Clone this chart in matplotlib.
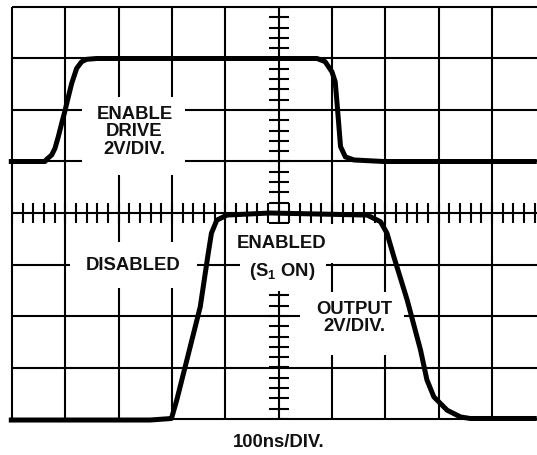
#!/usr/bin/env python3
"""
Scope trace: enable drive vs output, 100ns/div
"""

import numpy as np
import matplotlib
matplotlib.use('Agg')
import matplotlib.pyplot as plt
from matplotlib.patches import Rectangle

plt.rcParams['font.family'] = ['Liberation Sans', 'DejaVu Sans']
plt.rcParams['mathtext.fontset'] = 'custom'
plt.rcParams['mathtext.rm'] = 'Liberation Sans:bold'
plt.rcParams['mathtext.it'] = 'Liberation Sans:bold'
plt.rcParams['mathtext.bf'] = 'Liberation Sans:bold'

# trace readings, in divisions (x: time div, y: vertical div from centre)
drive_t = [-0.06, 0.62, 0.650, 0.744, 0.806, 0.868, 0.932, 0.994, 1.057, 1.120,
           1.213, 1.307, 1.400, 1.588, 4.78, 5.72, 5.87, 6.00, 6.06, 6.09,
           6.13, 6.16, 6.25, 6.41, 6.97, 9.84]
drive_v = [1.0, 1.0, 1.043, 1.126, 1.256, 1.482, 1.742, 1.987, 2.258, 2.519,
           2.810, 2.938, 2.984, 3.0, 3.0, 3.0, 2.94, 2.74, 2.55, 2.19,
           1.68, 1.29, 1.09, 1.03, 1.0, 1.0]

output_t = [-0.06, 2.59, 2.99, 3.09, 3.28, 3.53, 3.68, 3.74, 3.84, 4.03,
            4.84, 6.66, 6.91, 7.03, 7.16, 7.41, 7.66, 7.78, 7.91, 8.16,
            8.41, 8.59, 9.84]
output_v = [-4.02, -4.02, -3.99, -3.63, -2.85, -1.82, -0.78, -0.39, -0.14, -0.04,
            0.0, -0.04, -0.17, -0.39, -0.85, -1.69, -2.66, -3.24, -3.57, -3.83,
            -3.96, -3.99, -3.99]

X_MAX = 9.844
GRID_LW = 1.5
INK = '#111111'

fig = plt.figure(figsize=(5.37, 4.55), dpi=100)
ax = fig.add_axes([12 / 537, 1 - 419 / 455, 1 - 12 / 537, 412 / 455])
ax.set_xlim(0, X_MAX)
ax.set_ylim(-4, 4)
ax.axis('off')

# graticule
ax.vlines(np.arange(0, 10), -4, 4, color='black', lw=GRID_LW, zorder=1, clip_on=False)
ax.hlines(np.arange(-4, 5), 0, X_MAX, color='black', lw=GRID_LW, zorder=1, clip_on=False)

# minor ticks on the centre axes
xt = np.arange(0, X_MAX, 0.2)
ax.vlines(xt, -0.19, 0.19, color='black', lw=GRID_LW, zorder=1)
yt = np.arange(-4, 4.01, 0.2)
ax.hlines(yt, 5 - 0.1875, 5 + 0.1875, color='black', lw=GRID_LW, zorder=1)

# white blanks behind labels
for x0, x1, y0, y1 in [(1.307, 3.244, 0.738, 2.258),
                       (1.088, 3.463, -1.450, -0.557),
                       (4.275, 6.113, -0.971, -0.214),
                       (4.275, 5.888, -1.524, -0.971),
                       (5.406, 7.344, -2.757, -1.528)]:
    ax.add_patch(Rectangle((x0, y0), x1 - x0, y1 - y0, facecolor='white',
                           edgecolor='none', zorder=2))

# traces
for t, v in [(drive_t, drive_v), (output_t, output_v)]:
    ax.plot(t, v, color='black', lw=3.6, solid_joinstyle='round',
            solid_capstyle='butt', zorder=3, clip_on=False)

fs = 13.3
txt = dict(ha='center', va='center', fontsize=fs, fontweight='bold', color=INK, zorder=4)
ax.text(2.297, 1.903, 'ENABLE', **txt)
ax.text(2.297, 1.573, 'DRIVE', **txt)
ax.text(2.297, 1.240, '2V/DIV.', **txt)
ax.text(2.275, -1.023, 'DISABLED', **txt)
ax.text(5.057, -0.598, 'ENABLED', **txt)
ax.text(5.072, -1.140, r'(S$_{1}$ ON)', **txt)
ax.text(6.422, -1.874, 'OUTPUT', **txt)
ax.text(6.422, -2.204, '2V/DIV.', **txt)
ax.text(4.997, -4.456, '100ns/DIV.', clip_on=False, **txt)

fig.savefig('out.png', dpi=100)
